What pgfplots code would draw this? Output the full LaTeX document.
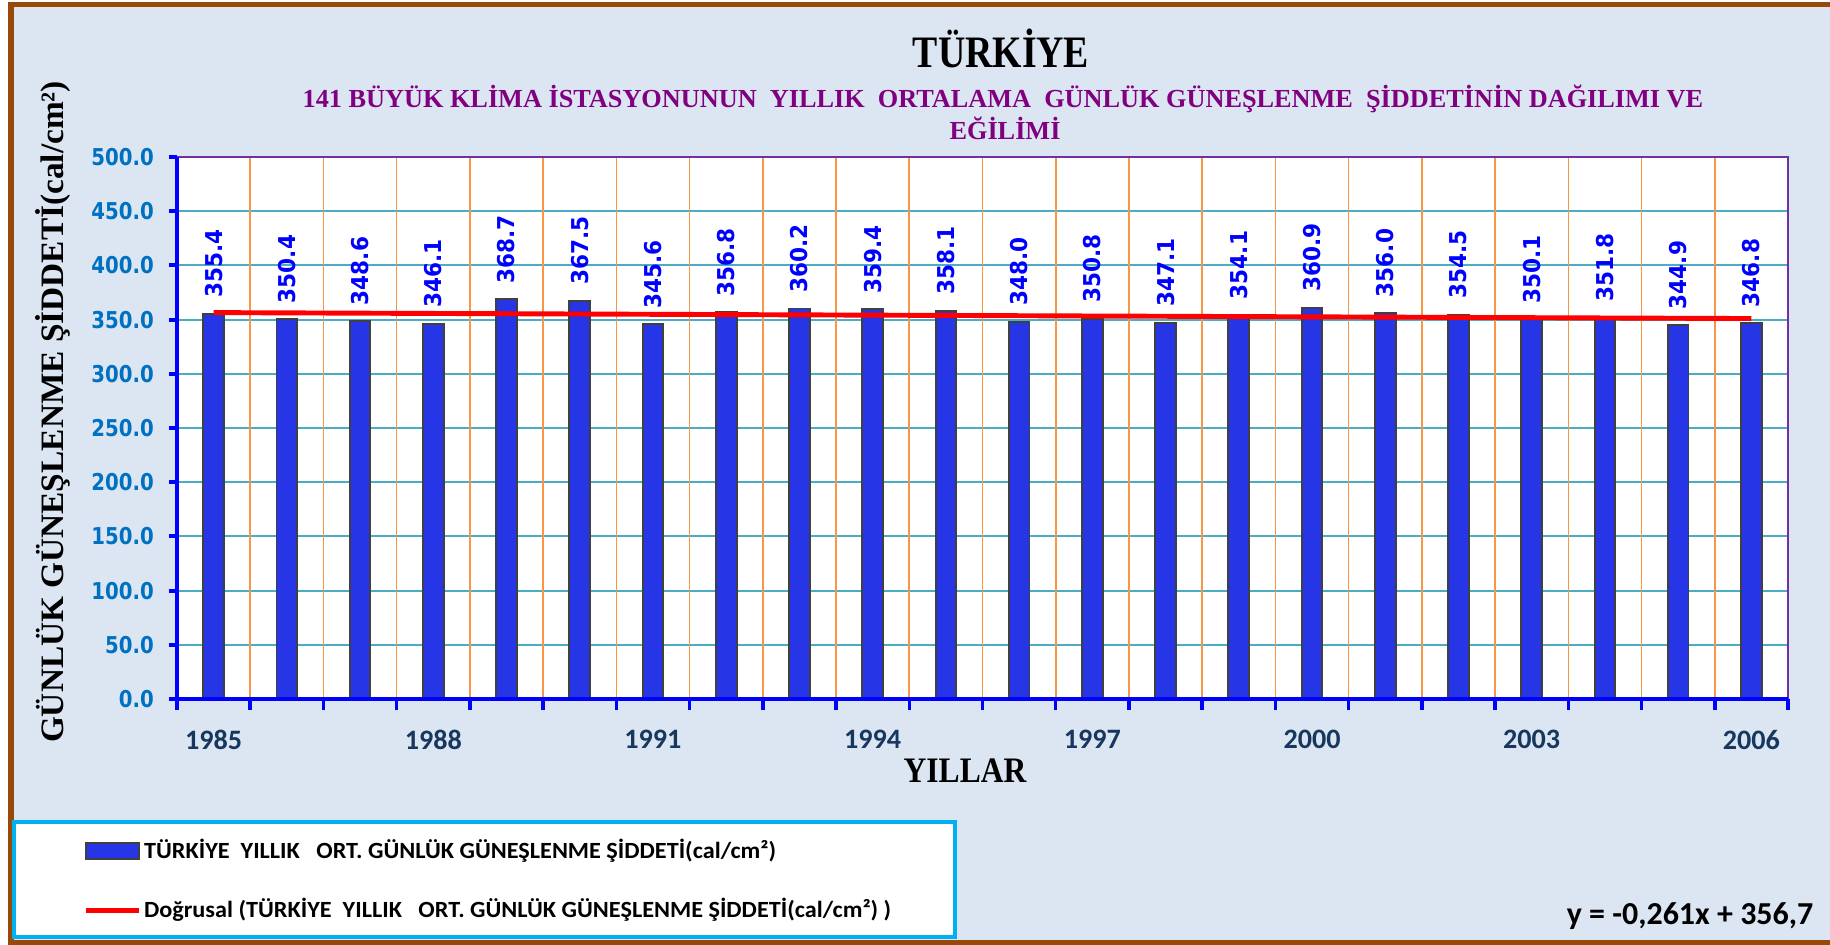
\documentclass[border=0pt]{standalone}
\usepackage{pgfplots}
\pgfplotsset{compat=1.18}
\usepackage{fontspec}
\usepackage{graphicx}
\newfontfamily\tnrf{Liberation Serif}
\newfontfamily\calf{Carlito}
\newfontfamily\dvsf{DejaVu Sans}
\newcommand{\ys}[1]{\scalebox{0.85}[1]{#1}}
\definecolor{bgc}{HTML}{DCE6F2}
\definecolor{framec}{HTML}{984807}
\definecolor{legc}{HTML}{00B0F0}
\definecolor{ptop}{HTML}{7030A0}
\definecolor{gteal}{HTML}{4BACC6}
\definecolor{gorange}{HTML}{F79646}
\definecolor{barc}{HTML}{2636E6}
\definecolor{barb}{HTML}{404040}
\definecolor{ytl}{HTML}{0070C0}
\definecolor{xtl}{HTML}{17375E}
\definecolor{subt}{HTML}{800080}
\definecolor{axblue}{HTML}{0000FF}
\begin{document}
\begin{tikzpicture}
\useasboundingbox (0,0) rectangle (183mm,94.5mm);
\begin{scope}[x=0.1mm,y=0.1mm]
\fill[white] (0,0) rectangle (1830,945);
\filldraw[fill=bgc, draw=framec, line width=1.5pt] (11,2.5) rectangle (1845,940.5);
\filldraw[fill=white, draw=legc, line width=1.1pt] (14,8) rectangle (955,123);
\end{scope}
\begin{axis}[
  at={(17.7mm,24.6mm)}, anchor=south west, scale only axis,
  width=161.1mm, height=54.2mm,
  xmin=0.5, xmax=22.5, ymin=0, ymax=500,
  clip=false,
  axis background/.style={fill=white},
  axis line style={draw=none},
  tick align=outside,
  xtick pos=left, ytick pos=left,
  ytick={0,50,100,150,200,250,300,350,400,450,500},
  yticklabels={\ys{0.0},\ys{50.0},\ys{100.0},\ys{150.0},\ys{200.0},\ys{250.0},\ys{300.0},\ys{350.0},\ys{400.0},\ys{450.0},\ys{500.0}},
  ymajorgrids, major grid style={draw=gteal, line width=0.57pt},
  ytick style={draw=axblue, line width=1.1pt},
  major tick length=0.85mm,
  yticklabel style={font=\dvsf\bfseries\fontsize{6.6}{8}\selectfont, text=ytl, inner sep=0pt, xshift=-1.4mm},
  xtick={1,4,7,10,13,16,19,22},
  xticklabels={1985,1988,1991,1994,1997,2000,2003,2006},
  xtick style={draw=none},
  xticklabel style={font=\calf\bfseries\fontsize{8}{9.6}\selectfont, text=xtl, inner sep=0pt, yshift=-2.2mm},
  extra x ticks={0.5,1.5,2.5,3.5,4.5,5.5,6.5,7.5,8.5,9.5,10.5,11.5,12.5,13.5,14.5,15.5,16.5,17.5,18.5,19.5,20.5,21.5,22.5},
  extra x tick labels={},
  extra x tick style={xtick style={draw=axblue, line width=1pt}, major tick length=1.1mm, xmajorgrids=true, major grid style={draw=gorange, line width=0.45pt}},
  legend style={at={(axis description cs:-0.0587,-0.251)}, anchor=north west, draw=none, fill=none,
     font=\calf\bfseries\fontsize{6.6}{7.9}\selectfont, row sep=2.9mm, inner sep=0pt,
     nodes={inner sep=0.3mm}},
  legend cell align=left,
  after end axis/.code={
    \draw[ptop, line width=0.6pt] (rel axis cs:0,1) -- (rel axis cs:1,1) -- (rel axis cs:1,0);
    \draw[axblue, line width=1pt] (rel axis cs:0,1) -- (rel axis cs:0,0);
    \draw[axblue, line width=1.4pt] (rel axis cs:0,0) -- (rel axis cs:1,0);
  },
]
\addplot[ybar, bar width=2.07mm, fill=barc, draw=barb, line width=0.55pt,
  point meta=explicit symbolic,
  nodes near coords={\scalebox{0.93}[1]{\pgfplotspointmeta}},
  every node near coord/.append style={rotate=90, anchor=west, inner xsep=1.5mm, inner ysep=0pt,
     font=\dvsf\bfseries\fontsize{6.6}{8}\selectfont, text=axblue},
  legend image code/.code={\draw[fill=barc, draw=barb, line width=0.55pt] (0mm,-0.8mm) rectangle (5.3mm,0.8mm);}
] coordinates {
(1,355.4) [355.4]
(2,350.4) [350.4]
(3,348.6) [348.6]
(4,346.1) [346.1]
(5,368.7) [368.7]
(6,367.5) [367.5]
(7,345.6) [345.6]
(8,356.8) [356.8]
(9,360.2) [360.2]
(10,359.4) [359.4]
(11,358.1) [358.1]
(12,348.0) [348.0]
(13,350.8) [350.8]
(14,347.1) [347.1]
(15,354.1) [354.1]
(16,360.9) [360.9]
(17,356.0) [356.0]
(18,354.5) [354.5]
(19,350.1) [350.1]
(20,351.8) [351.8]
(21,344.9) [344.9]
(22,346.8) [346.8]
};
\addlegendentry{\scalebox{1.045}[1]{TÜRKİYE\ \ YILLIK\ \ \ ORT. GÜNLÜK GÜNEŞLENME ŞİDDETİ(cal/cm²)}}
\addplot[sharp plot, draw=red, line width=1.4pt, mark=none,
  legend image code/.code={\draw[red, line width=1.4pt] (0mm,0mm) -- (5.3mm,0mm);}
] coordinates {(1,356.439) (22,350.958)};
\addlegendentry{\scalebox{1.045}[1]{Doğrusal (TÜRKİYE\ \ YILLIK\ \ \ ORT. GÜNLÜK GÜNEŞLENME ŞİDDETİ(cal/cm²) )}}
\end{axis}
\begin{scope}[x=0.1mm,y=0.1mm]
\node[anchor=base, font=\tnrf\bfseries\fontsize{12.8}{15}\selectfont] at (1001,877) {\scalebox{0.84}[1]{TÜRKİYE}};
\node[anchor=base, text=subt, font=\tnrf\bfseries\fontsize{7.4}{9}\selectfont] at (1003,837) {\scalebox{1.01}[1]{141 BÜYÜK KLİMA İSTASYONUNUN\ \ YILLIK\ \ ORTALAMA\ \ GÜNLÜK GÜNEŞLENME\ \ ŞİDDETİNİN DAĞILIMI VE}};
\node[anchor=base, text=subt, font=\tnrf\bfseries\fontsize{7.4}{9}\selectfont] at (1005,805) {\scalebox{1.01}[1]{EĞİLİMİ}};
\node[anchor=base, font=\tnrf\bfseries\fontsize{10.2}{12}\selectfont] at (965,162) {\scalebox{0.88}[1]{YILLAR}};
\node[rotate=90, anchor=base, font=\tnrf\bfseries\fontsize{9.3}{11}\selectfont] at (63,533) {\scalebox{1.02}[1]{GÜNLÜK GÜNEŞLENME ŞİDDETİ(cal/cm²)}};
\node[anchor=base east, font=\calf\bfseries\fontsize{9.1}{11}\selectfont, inner sep=0pt] at (1814,20) {y = -0,261x + 356,7};
\end{scope}
\end{tikzpicture}
\end{document}
